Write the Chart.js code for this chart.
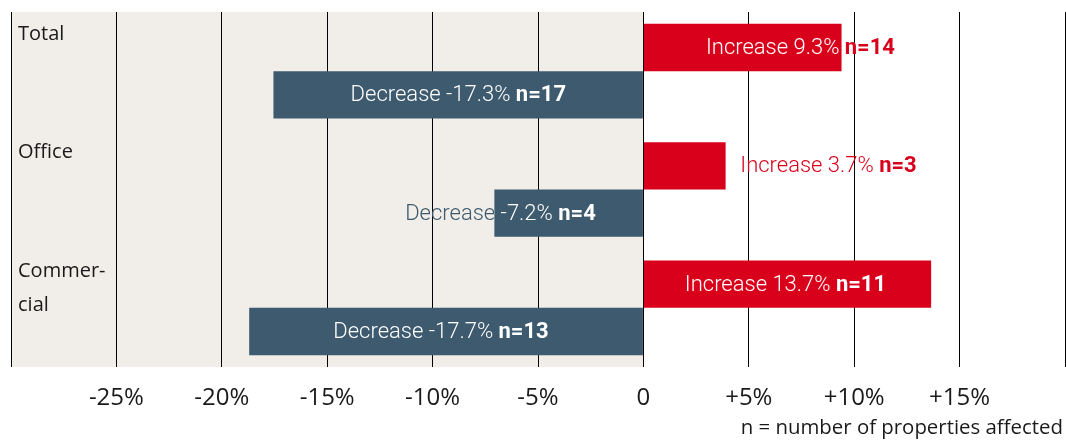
<!DOCTYPE html>
<html>
<head>
<meta charset="utf-8">
<script src="https://cdn.jsdelivr.net/npm/chart.js@4"></script>
<style>
  html, body { margin: 0; padding: 0; background: #fff; }
  #wrap { width: 1066px; height: 440px; position: relative; }
  #note {
    position: absolute; right: 3px; top: 412px;
    font: 20.4px "Open Sans", sans-serif; color: #1a1a1a; white-space: nowrap;
  }
</style>
</head>
<body>
<div id="wrap">
  <canvas id="chart" width="1066" height="440"></canvas>
  <div id="note">n = number of properties affected</div>
</div>
<script>
// Categories (one label line per entry)
const categories = ['Total', 'Office', 'Commercial'];
const categoryLines = [['Total'], ['Office'], ['Commer-', 'cial']];

// Bar lengths in % as drawn in the picture
const increaseValues = [9.4, 3.9, 13.65];
const decreaseValues = [-17.55, -7.07, -18.7];

// Label texts
const increaseText = ['Increase 9.3%', 'Increase 3.7%', 'Increase 13.7%'];
const increaseN = ['n=14', 'n=3', 'n=11'];
const decreaseText = ['Decrease -17.3%', 'Decrease -7.2%', 'Decrease -17.7%'];
const decreaseN = ['n=17', 'n=4', 'n=13'];

// Where each label is centred, in % on the x axis
const increaseLabelAt = [7.45, 8.78, 6.74];
const decreaseLabelAt = [-8.78, -6.78, -9.6];

// x axis ticks
const tickValues = [-30, -25, -20, -15, -10, -5, 0, 5, 10, 15, 20];
const tickLabels = ['', '-25%', '-20%', '-15%', '-10%', '-5%', '0', '+5%', '+10%', '+15%', ''];

const RED = '#d9001b';
const BLUE = '#3d5a6e';
const BEIGE = '#f1ede8';
const labelFont = '300 22px Roboto';
const labelFontBold = 'bold 22px Roboto';

// Beige panel for the negative half
const beigePanel = {
  id: 'beigePanel',
  beforeDraw(chart) {
    const { ctx, chartArea, scales: { x } } = chart;
    ctx.save();
    ctx.fillStyle = BEIGE;
    ctx.fillRect(chartArea.left, chartArea.top, x.getPixelForValue(0) - chartArea.left, chartArea.bottom - chartArea.top);
    ctx.restore();
  }
};

// Category names at the top left of each band
const bandLabels = {
  id: 'bandLabels',
  afterDatasetsDraw(chart) {
    const { ctx, chartArea, scales: { y } } = chart;
    const half = (y.getPixelForValue(1) - y.getPixelForValue(0)) / 2;
    ctx.save();
    ctx.font = '20px "Open Sans"';
    ctx.fillStyle = '#1a1a1a';
    ctx.textBaseline = 'alphabetic';
    ctx.textAlign = 'left';
    categoryLines.forEach((lines, i) => {
      const top = y.getPixelForValue(i) - half;
      lines.forEach((t, k) => ctx.fillText(t, chartArea.left + 7, top + 28 + k * 34));
    });
    ctx.restore();
  }
};

// Bar labels: series colour outside the bar, white inside it
const barLabels = {
  id: 'barLabels',
  afterDatasetsDraw(chart) {
    const { ctx, scales: { x } } = chart;
    chart.data.datasets.forEach((ds, i) => {
      const meta = chart.getDatasetMeta(i);
      meta.data.forEach((bar, j) => {
        const main = ds.labelText[j] + ' ';
        const n = ds.labelN[j];
        ctx.save();
        ctx.font = labelFont;
        const w1 = ctx.measureText(main).width;
        ctx.font = labelFontBold;
        const w2 = ctx.measureText(n).width;
        const sx = x.getPixelForValue(ds.labelAt[j]) - (w1 + w2) / 2;
        const yy = bar.y + 1;
        ctx.textBaseline = 'middle';
        ctx.textAlign = 'left';
        const draw = (color) => {
          ctx.fillStyle = color;
          ctx.font = labelFont;
          ctx.fillText(main, sx, yy);
          ctx.font = labelFontBold;
          ctx.fillText(n, sx + w1, yy);
        };
        draw(ds.backgroundColor);
        ctx.beginPath();
        ctx.rect(Math.min(bar.x, bar.base), bar.y - bar.height / 2, Math.abs(bar.x - bar.base), bar.height);
        ctx.clip();
        draw('#fff');
        ctx.restore();
      });
    });
  }
};

new Chart(document.getElementById('chart'), {
  type: 'bar',
  data: {
    labels: categories,
    datasets: [
      {
        label: 'Increase',
        data: increaseValues,
        backgroundColor: RED,
        labelText: increaseText,
        labelN: increaseN,
        labelAt: increaseLabelAt,
        categoryPercentage: 0.8,
        barPercentage: 1.0,
      },
      {
        label: 'Decrease',
        data: decreaseValues,
        backgroundColor: BLUE,
        labelText: decreaseText,
        labelN: decreaseN,
        labelAt: decreaseLabelAt,
        categoryPercentage: 0.8,
        barPercentage: 1.0,
      }
    ]
  },
  options: {
    indexAxis: 'y',
    responsive: false,
    animation: false,
    layout: { padding: { left: 11, right: 1, top: 12, bottom: 0 } },
    plugins: {
      legend: { display: false },
      tooltip: { enabled: false },
    },
    scales: {
      x: {
        min: -30,
        max: 20,
        afterBuildTicks: (scale) => { scale.ticks = tickValues.map(v => ({ value: v })); },
        afterFit: (scale) => {
          scale.height = 73;
          scale.paddingLeft = 0;
          scale.paddingRight = 0;
        },
        grid: { color: '#000', lineWidth: 1, drawTicks: false },
        border: { display: false },
        ticks: {
          padding: 17,
          autoSkip: false,
          maxRotation: 0,
          color: '#1a1a1a',
          font: { family: 'Open Sans', size: 24 },
          callback: (v) => tickLabels[tickValues.indexOf(v)] ?? '',
        },
      },
      y: {
        display: false,
      },
    },
  },
  plugins: [beigePanel, bandLabels, barLabels],
});
</script>
</body>
</html>
